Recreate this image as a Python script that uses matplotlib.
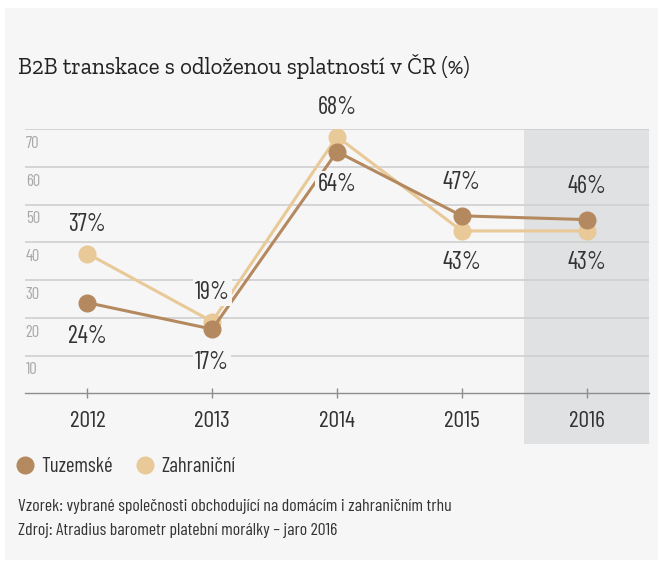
"""
B2B transakce s odloženou splatností v ČR – line chart with a shaded last year.
"""

import matplotlib
matplotlib.use("Agg")
import matplotlib.pyplot as plt
from matplotlib.patches import Rectangle
from matplotlib.lines import Line2D

years = ["2012", "2013", "2014", "2015", "2016"]
tuzemske = [24, 17, 64, 47, 46]
zahranicni = [37, 19, 68, 43, 43]
y_ticks = [10, 20, 30, 40, 50, 60, 70]

# label placement: +1 above the point, -1 below
tuz_side = [-1, -1, -1, 1, 1]
zah_side = [1, 1, 1, -1, -1]

BG = "#f6f6f6"
SHADE = "#e0e1e3"
GRID = "#cfcfcf"
C_TUZ = "#b5895f"
C_ZAH = "#e8c997"
TXT = "#333333"

NARROW = ["Barlow Condensed", "Roboto Condensed", "DejaVu Sans"]
SERIF = ["Zilla Slab", "DejaVu Serif"]

W, H = 658, 565
fig = plt.figure(figsize=(W / 100, H / 100), dpi=100)
fig.patch.set_facecolor("white")
fig.add_artist(Rectangle((5 / W, 1 - 560 / H), 653 / W, 552 / H,
                         transform=fig.transFigure, facecolor=BG,
                         edgecolor="none", zorder=0))

# axes box in pixels: x 25..649, y 129..393
ax = fig.add_axes([25 / W, 1 - 393.3 / H, 624 / W, 264.3 / H])
ax.set_facecolor("none")
x = list(range(len(years)))
ax.set_xlim(-0.5, len(years) - 0.5)
ax.set_ylim(0, 70)

# shaded forecast year, running down behind the year label
ax.add_patch(Rectangle((3.5, -0.19), 1.0, 1.19,
                       transform=ax.get_xaxis_transform(), facecolor=SHADE,
                       edgecolor="none", clip_on=False, zorder=0))

for v in y_ticks:
    ax.axhline(v, color=GRID, lw=1.2, zorder=1)
    ax.annotate(str(v), xy=(0, v), xycoords=("axes fraction", "data"),
                xytext=(0.5, -5), textcoords="offset points", ha="left",
                va="top", fontsize=12, color="#a8a8a8", family=NARROW)

for s in ["top", "right", "left"]:
    ax.spines[s].set_visible(False)
ax.spines["bottom"].set_color("#8e8e8e")
ax.spines["bottom"].set_linewidth(1.0)
ax.set_yticks([])
ax.set_xticks(x)
ax.set_xticklabels(years, family=NARROW, fontsize=17, color=TXT)
ax.tick_params(axis="x", direction="inout", length=7, width=1,
               color="#8e8e8e", pad=9)

ax.plot(x, zahranicni, color=C_ZAH, lw=2.2, marker="o", markersize=12,
        zorder=3)
ax.plot(x, tuzemske, color=C_TUZ, lw=2.2, marker="o", markersize=12,
        zorder=4)

for xi, v, side in zip(x, tuzemske, tuz_side):
    ax.annotate(f"{v}%", xy=(xi, v), xytext=(0, 24 * side),
                textcoords="offset points", ha="center", va="center",
                fontsize=17.5, color=TXT, family=NARROW, zorder=5,
                bbox=dict(facecolor=BG if xi < 4 else SHADE,
                          edgecolor="none", pad=1.5))
for xi, v, side in zip(x, zahranicni, zah_side):
    ax.annotate(f"{v}%", xy=(xi, v), xytext=(0, 21 * side if side > 0 else 23 * side),
                textcoords="offset points", ha="center", va="center",
                fontsize=17.5, color=TXT, family=NARROW, zorder=5,
                bbox=dict(facecolor=BG if xi < 4 else SHADE,
                          edgecolor="none", pad=1.5))

fig.text(18 / W, 1 - 74 / H, "B2B transkace s odloženou splatností v ČR (%)",
         family=SERIF, fontsize=16.5, color="#222222", ha="left",
         va="baseline")

# legend
handles = [Line2D([], [], marker="o", ls="none", markersize=12,
                  markerfacecolor=C_TUZ, markeredgecolor=C_TUZ),
           Line2D([], [], marker="o", ls="none", markersize=12,
                  markerfacecolor=C_ZAH, markeredgecolor=C_ZAH)]
fig.legend(handles, ["Tuzemské", "Zahraniční"], loc="center left",
           bbox_to_anchor=(12.5 / W, 1 - 467 / H), ncol=2, frameon=False,
           borderaxespad=0, borderpad=0,
           handletextpad=0.2, columnspacing=0.9, handlelength=1.2,
           prop={"family": NARROW, "size": 15}, labelcolor=TXT)

fig.text(18 / W, 1 - 506 / H,
         "Vzorek: vybrané společnosti obchodující na domácím i zahraničním trhu",
         family=NARROW, fontsize=12.8, color=TXT, ha="left", va="center")
fig.text(18 / W, 1 - 530 / H,
         "Zdroj: Atradius barometr platební morálky – jaro 2016",
         family=NARROW, fontsize=12.8, color=TXT, ha="left", va="center")

fig.savefig("out.png", dpi=100, facecolor=fig.get_facecolor())
